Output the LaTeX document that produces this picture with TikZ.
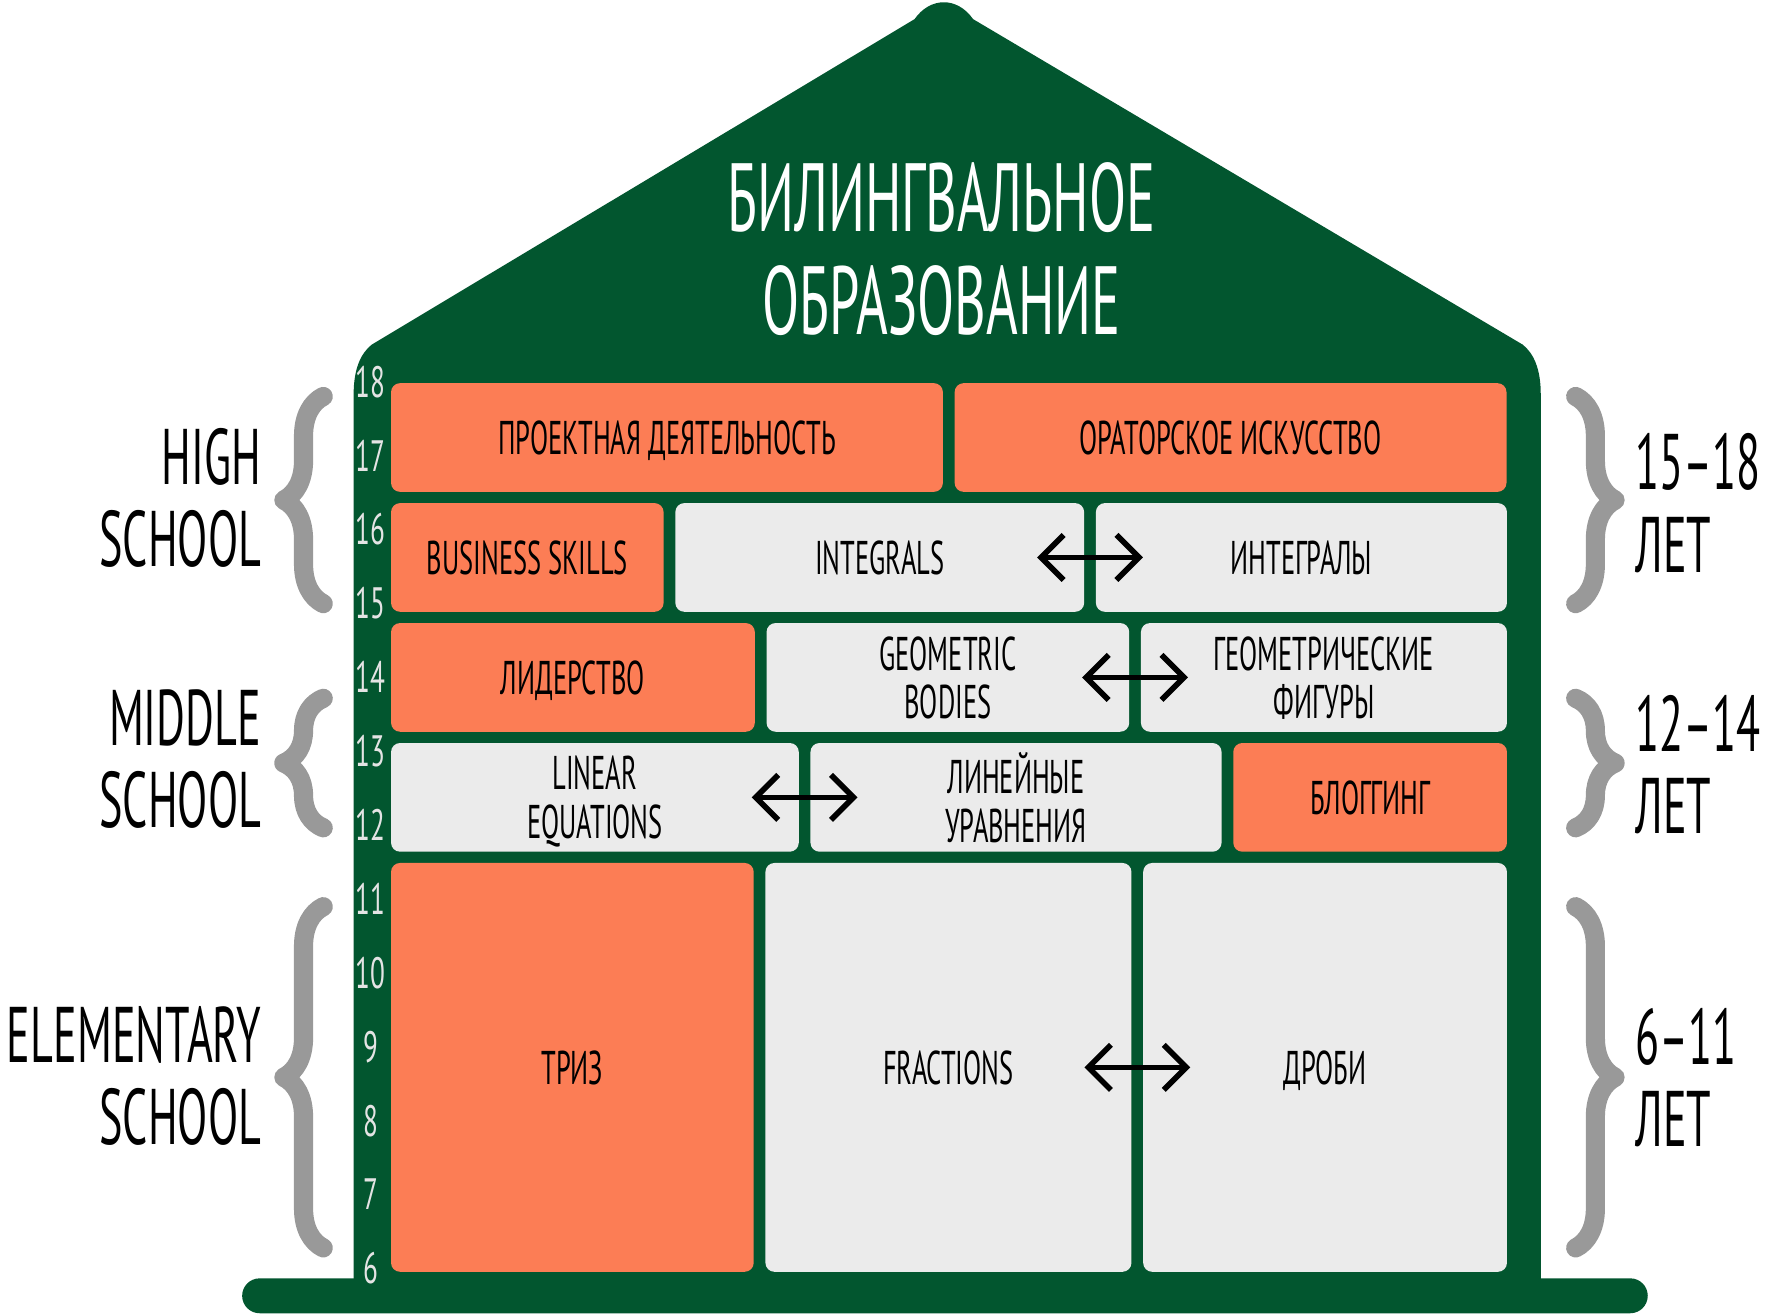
\documentclass[tikz,border=0pt]{standalone}
\usepackage{fontspec}
\setmainfont{PT Sans}[FakeStretch=0.56]
\newfontfamily\agefont{PT Sans}[FakeStretch=0.62]
\usetikzlibrary{arrows.meta,positioning,decorations.pathreplacing}
\definecolor{Green}{HTML}{02562F}
\definecolor{Orange}{HTML}{FC7D55}
\definecolor{Cell}{HTML}{EBEBEB}
\definecolor{Brace}{HTML}{999999}
\definecolor{Age}{HTML}{E4E4E4}

\begin{document}
\begin{tikzpicture}[
  x=1pt,y=-1pt,
  cell/.style={rounded corners=8pt,minimum height=96.5pt,inner sep=0pt,align=center,
    text depth=0pt,font=\fontsize{42}{43}\selectfont},
  orangecell/.style={cell,fill=Orange},
  graycell/.style={cell,fill=Cell},
  side/.style={inner sep=0pt,font=\fontsize{70}{73}\selectfont},
  agenum/.style={inner sep=0pt,text=Age,font=\agefont\fontsize{39}{39}\selectfont},
  bracket/.style={draw=Brace,line width=17pt,line cap=round,line join=round,
    decorate,decoration={brace,amplitude=35pt}},
  twoway/.style={{Straight Barb[length=20pt,width=40pt]}-{Straight Barb[length=20pt,width=40pt]},
    line width=5pt,line cap=round}
]
  \useasboundingbox (0,0) rectangle (1568,1167);

  \fill[Green] (314,1140) -- (314,350) .. controls (314,328) and (320,314) .. (330,306)
    -- (812,17) .. controls (826,-3) and (850,-3) .. (864,17)
    -- (1352,306) .. controls (1362,314) and (1368,328) .. (1368,350) -- (1368,1140) -- cycle;
  \fill[Green,rounded corners=15.5pt] (215,1135) rectangle (1463,1166);

  \node[text=white,align=center,inner sep=0pt,font=\fontsize{86}{92}\selectfont] (title) at (836,221)
    {БИЛИНГВАЛЬНОЕ\\ОБРАЗОВАНИЕ};

  \node[orangecell,minimum width=490pt,anchor=north west] (project) at (347,340) {ПРОЕКТНАЯ ДЕЯТЕЛЬНОСТЬ};
  \node[orangecell,minimum width=490pt,right=10pt of project] (oratory) {ОРАТОРСКОЕ ИСКУССТВО};

  \node[orangecell,minimum width=242pt,anchor=north west] (business) at (347,446.5) {BUSINESS SKILLS};
  \node[graycell,minimum width=363pt,right=10pt of business] (integrals) {INTEGRALS};
  \node[graycell,minimum width=365pt,right=10pt of integrals] (integraly) {ИНТЕГРАЛЫ};

  \node[orangecell,minimum width=323pt,anchor=north west] (leadership) at (347,553) {ЛИДЕРСТВО};
  \node[graycell,minimum width=322pt,right=10pt of leadership] (geometric) {GEOMETRIC\\BODIES};
  \node[graycell,minimum width=325pt,right=10pt of geometric] (figury) {ГЕОМЕТРИЧЕСКИЕ\\ФИГУРЫ};

  \node[graycell,minimum width=362pt,anchor=north west] (linear) at (347,659.5) {LINEAR\\EQUATIONS};
  \node[graycell,minimum width=365pt,right=10pt of linear] (lineinye) {ЛИНЕЙНЫЕ\\УРАВНЕНИЯ};
  \node[orangecell,minimum width=243pt,right=10pt of lineinye] (blogging) {БЛОГГИНГ};

  \node[orangecell,minimum width=322pt,minimum height=363pt,anchor=north west] (triz) at (347,766) {ТРИЗ};
  \node[graycell,minimum width=325pt,minimum height=363pt,right=10pt of triz] (fractions) {FRACTIONS};
  \node[graycell,minimum width=323pt,minimum height=363pt,right=10pt of fractions] (drobi) {ДРОБИ};

  \foreach \a/\b in {integrals/integraly,geometric/figury,linear/lineinye,fractions/drobi}
    \draw[twoway] ([xshift=-42pt]\a.east) -- ([xshift=42pt]\b.west);

  \foreach \age [count=\k from 0] in {18,17,...,6}
    \node[agenum] (age\age) at (329,{339+65.6*\k}) {\age};

  \node[side,align=right,anchor=north east] (high) at (232,380) {HIGH\\SCHOOL};
  \node[side,align=right,anchor=north east] (middle) at (232,612) {MIDDLE\\SCHOOL};
  \node[side,align=right,anchor=north east] (elementary) at (232,893) {ELEMENTARY\\SCHOOL};
  \node[side,align=left,anchor=north west] (years1) at (1452,385) {15–18\\ЛЕТ};
  \node[side,align=left,anchor=north west] (years2) at (1452,617) {12–14\\ЛЕТ};
  \node[side,align=left,anchor=north west] (years3) at (1452,895) {6–11\\ЛЕТ};

  \draw[bracket] (287,536) -- (287,352);
  \draw[bracket] (287,735) -- (287,620);
  \draw[bracket] (287,1108) -- (287,805);
  \draw[bracket] (1399,352) -- (1399,536);
  \draw[bracket] (1399,620) -- (1399,735);
  \draw[bracket] (1399,805) -- (1399,1108);
\end{tikzpicture}
\end{document}
